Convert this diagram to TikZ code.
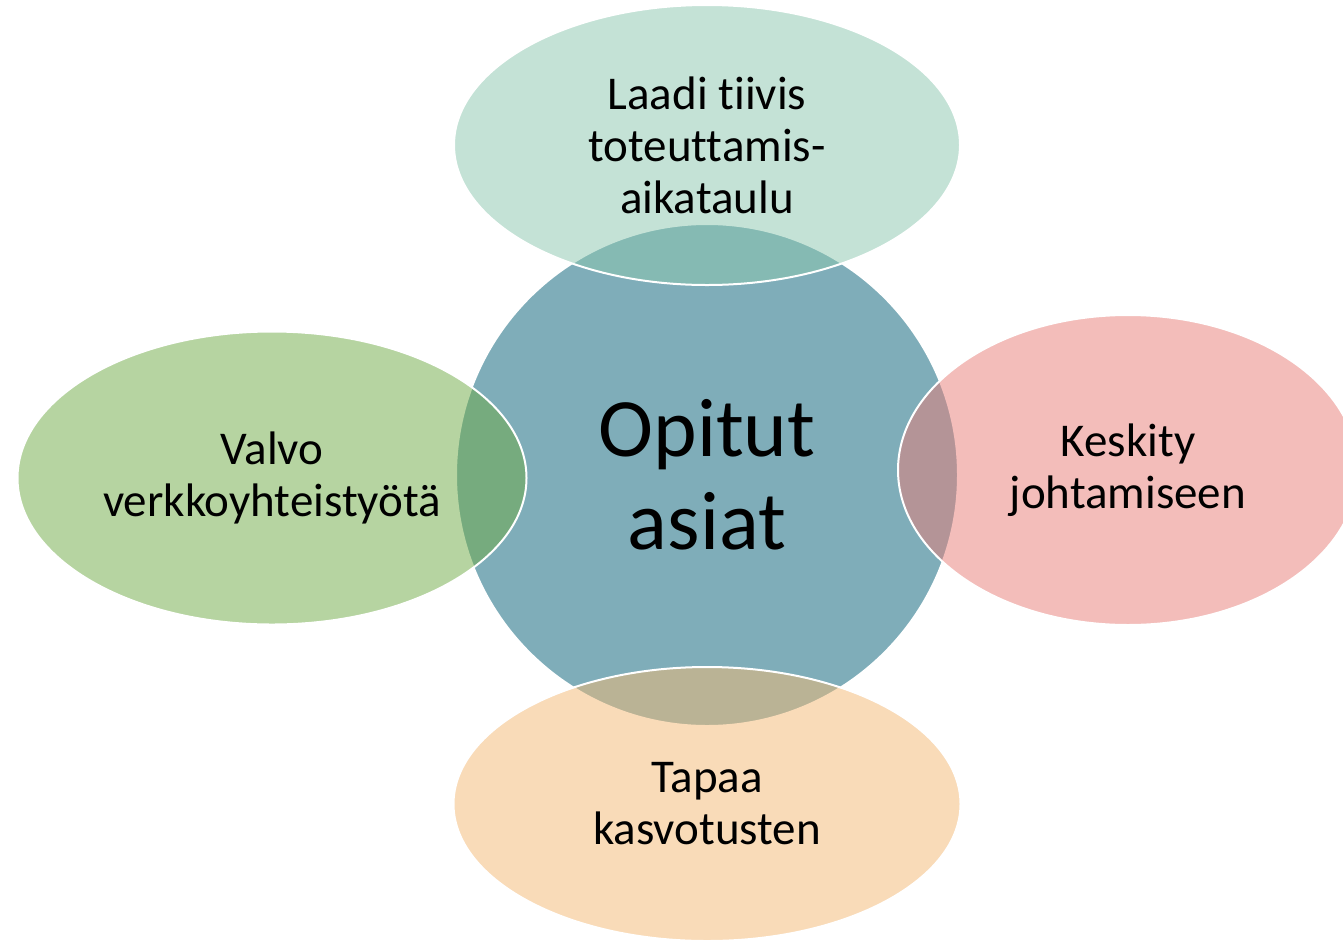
\documentclass[tikz,border=0pt]{standalone}
\usepackage{fontspec}
\setmainfont{Carlito}[Ligatures={NoCommon}]
\usepackage{tikz}
\usetikzlibrary{shapes.geometric}
\definecolor{hubblue}{RGB}{127,173,185}
\definecolor{petalteal}{RGB}{139,199,175}
\definecolor{petalred}{RGB}{233,125,119}
\definecolor{petalgreen}{RGB}{111,171,69}
\definecolor{petalorange}{RGB}{245,185,115}

\begin{document}
\begin{tikzpicture}[x=1pt,y=-1pt,
        hub/.style={circle, fill=hubblue, draw=white, line width=2pt, inner sep=0pt,
            minimum size=502pt, align=center,
            font=\fontsize{83}{93}\selectfont},
        petal/.style={ellipse, fill=#1, draw=white, line width=2pt, fill opacity=0.5,
            draw opacity=1, text opacity=1, inner sep=0pt, align=center,
            font=\fontsize{47}{52}\selectfont}]
        \fill[white] (0,0) rectangle (1343,940);
        \useasboundingbox (0,0) rectangle (1343,940);
        \node[hub] (opit) at (707,475) {Opitut\\asiat};
        \node[petal=petalteal, minimum width=506pt, minimum height=280pt] (laadi) at (707,145)
            {Laadi tiivis\\toteuttamis-\\aikataulu};
        \node[petal=petalred, minimum width=460pt, minimum height=310pt] (keskity) at (1128,470)
            {Keskity\\johtamiseen};
        \node[petal=petalgreen, minimum width=509pt, minimum height=293pt] (valvo) at (272,478)
            {Valvo\\verkkoyhteistyötä};
        \node[petal=petalorange, minimum width=507pt, minimum height=274pt] (tapaa) at (707,804)
            {Tapaa\\kasvotusten};
    \end{tikzpicture}
\end{document}
